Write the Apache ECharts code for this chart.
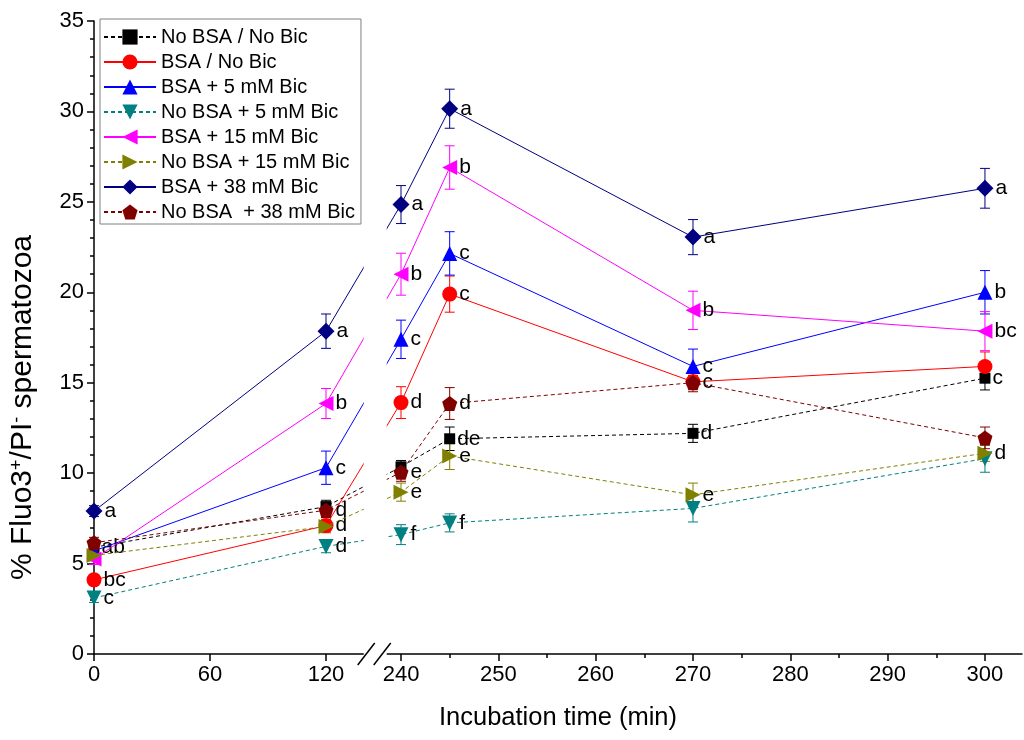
<!DOCTYPE html>
<html><head><meta charset="utf-8">
<script src="https://cdn.jsdelivr.net/npm/echarts@6/dist/echarts.min.js"></script>
<style>html,body{margin:0;padding:0;background:#fff}#c{width:1024px;height:740px}</style>
</head><body><div id="c"></div>
<script>
// ---- data ----
const times = [0, 120, 240, 245, 270, 300];
const leftTicks = [0, 60, 120];
const rightTicks = [240, 250, 260, 270, 280, 290, 300];
const rightMinorTicks = [245, 255, 265, 275, 285, 295];
const yTicks = [0, 5, 10, 15, 20, 25, 30, 35];

const names = ['No BSA / No Bic', 'BSA / No Bic', 'BSA + 5 mM Bic', 'No BSA + 5 mM Bic',
  'BSA + 15 mM Bic', 'No BSA + 15 mM Bic', 'BSA + 38 mM Bic', 'No BSA  + 38 mM Bic'];

const noBsaNoBic = [5.9, 8.15, 10.35, 11.9, 12.2, 15.25];
const noBsaNoBicErr = [0.3, 0.35, 0.35, 0.65, 0.5, 0.65];
const noBsaNoBicLbl = ['ab', '', '', 'de', 'd', 'c'];

const bsaNoBic = [4.1, 7.1, 13.9, 19.9, 15.05, 15.9];
const bsaNoBicErr = [0.3, 0.35, 0.88, 1.0, 0.35, 0.8];
const bsaNoBicLbl = ['bc', 'd', 'd', 'c', 'c', ''];

const bsa5 = [5.7, 10.3, 17.4, 22.15, 15.9, 20.0];
const bsa5Err = [0.3, 0.92, 1.06, 1.2, 0.96, 1.2];
const bsa5Lbl = ['', 'c', 'c', 'c', 'c', 'b'];

const noBsa5 = [3.1, 5.95, 6.6, 7.25, 8.05, 10.8];
const noBsa5Err = [0.25, 0.35, 0.55, 0.5, 0.75, 0.75];
const noBsa5Lbl = ['c', 'd', 'f', 'f', '', ''];

const bsa15 = [5.25, 13.85, 21.0, 26.9, 19.0, 17.85];
const bsa15Err = [0.3, 0.83, 1.16, 1.2, 1.06, 1.08];
const bsa15Lbl = ['', 'b', 'b', 'b', 'b', 'bc'];

const noBsa15 = [5.45, 7.05, 8.95, 10.95, 8.8, 11.1];
const noBsa15Err = [0.3, 0.35, 0.5, 0.75, 0.65, 0.45];
const noBsa15Lbl = ['', '', 'e', 'e', 'e', 'd'];

const bsa38 = [7.9, 17.85, 24.85, 30.15, 23.05, 25.75];
const bsa38Err = [0.3, 0.95, 1.05, 1.08, 0.97, 1.1];
const bsa38Lbl = ['a', 'a', 'a', 'a', 'a', 'a'];

const noBsa38 = [6.15, 7.95, 10.05, 13.85, 15.0, 11.95];
const noBsa38Err = [0.3, 0.4, 0.5, 0.88, 0.5, 0.6];
const noBsa38Lbl = ['', 'd', 'e', 'd', '', ''];

// ---- broken axis scale: left segment 0-120 as is, right segment 240-300 stretched ----
const U240 = 158.8, K = 5.034, UMAX = 480, BREAK_U = 145.2;
const toU = t => (t <= 150 ? t : U240 + (t - 240) * K);
const fromU = u => (u <= 150 ? Math.round(u) : Math.round(240 + (u - U240) / K));

const FONT = 'Liberation Sans, Arial, Helvetica, sans-serif';
const pent = 'path://M0,-10 L9.51,-3.09 L5.88,8.09 L-5.88,8.09 L-9.51,-3.09 Z';

const defs = [
  {vals: noBsaNoBic, err: noBsaNoBicErr, lbl: noBsaNoBicLbl, color: '#000000', dash: true, symbol: 'rect', size: 11, rot: 0},
  {vals: bsaNoBic, err: bsaNoBicErr, lbl: bsaNoBicLbl, color: '#ff0000', dash: false, symbol: 'circle', size: 15, rot: 0},
  {vals: bsa5, err: bsa5Err, lbl: bsa5Lbl, color: '#0000ff', dash: false, symbol: 'triangle', size: 15, rot: 0},
  {vals: noBsa5, err: noBsa5Err, lbl: noBsa5Lbl, color: '#008080', dash: true, symbol: 'triangle', size: 15, rot: 180},
  {vals: bsa15, err: bsa15Err, lbl: bsa15Lbl, color: '#ff00ff', dash: false, symbol: 'triangle', size: 15, rot: 90},
  {vals: noBsa15, err: noBsa15Err, lbl: noBsa15Lbl, color: '#808000', dash: true, symbol: 'triangle', size: 15, rot: -90},
  {vals: bsa38, err: bsa38Err, lbl: bsa38Lbl, color: '#000080', dash: false, symbol: 'diamond', size: 17, rot: 0},
  {vals: noBsa38, err: noBsa38Err, lbl: noBsa38Lbl, color: '#800000', dash: true, symbol: pent, size: 15, rot: 0}
];

function errRender(params, api) {
  const x = api.value(0), y = api.value(1), e = api.value(2);
  const top = api.coord([x, y + e]), bot = api.coord([x, y - e]);
  const cap = 5;
  const style = {stroke: api.visual('color'), lineWidth: 1, fill: null};
  return {type: 'group', children: [
    {type: 'line', shape: {x1: top[0], y1: top[1], x2: bot[0], y2: bot[1]}, style: style},
    {type: 'line', shape: {x1: top[0] - cap, y1: top[1], x2: top[0] + cap, y2: top[1]}, style: style},
    {type: 'line', shape: {x1: bot[0] - cap, y1: bot[1], x2: bot[0] + cap, y2: bot[1]}, style: style}
  ]};
}

const series = [];
defs.forEach((d, i) => {
  series.push({
    type: 'custom', name: names[i] + ' err', xAxisIndex: 0, yAxisIndex: 0,
    renderItem: errRender, itemStyle: {color: d.color}, z: 1, silent: true,
    data: times.map((t, k) => [toU(t), d.vals[k], d.err[k]])
  });
});
defs.forEach((d, i) => {
  series.push({
    type: 'line', name: names[i], xAxisIndex: 0, yAxisIndex: 0,
    symbol: d.symbol, symbolSize: d.size, symbolRotate: d.rot, showAllSymbol: true,
    itemStyle: {color: d.color, opacity: 1},
    lineStyle: {color: d.color, width: 1, type: d.dash ? [4, 3] : 'solid'},
    z: 3 + i, animation: false,
    label: {
      show: true, position: 'right', distance: 2, color: '#000', fontSize: 21, fontFamily: FONT,
      formatter: p => d.lbl[p.dataIndex]
    },
    data: times.map((t, k) => [toU(t), d.vals[k]])
  });
});

const chart = echarts.init(document.getElementById('c'), null, {renderer: 'canvas'});
const axisLineStyle = {color: '#000', width: 1.5};
chart.setOption({
  animation: false,
  backgroundColor: '#fff',
  grid: {left: 94, right: 2, top: 21, bottom: 86, containLabel: false},
  legend: {
    data: names, orient: 'vertical', left: 100, top: 19,
    padding: [8, 6, 2, 3], itemGap: 5, itemWidth: 52, itemHeight: 19,
    borderColor: '#808080', borderWidth: 1, backgroundColor: '#fff',
    textStyle: {fontSize: 20, fontFamily: FONT, color: '#000'}
  },
  xAxis: [{
    type: 'value', min: 0, max: UMAX, position: 'bottom',
    name: 'Incubation time (min)', nameLocation: 'middle', nameGap: 51,
    nameTextStyle: {fontSize: 25.5, fontFamily: FONT, color: '#000'},
    axisLine: {show: true, lineStyle: axisLineStyle},
    axisTick: {show: true, inside: false, length: 7, lineStyle: {color: '#000', width: 1.5},
      customValues: leftTicks.concat(rightTicks).map(toU)},
    axisLabel: {show: true, margin: 10, fontSize: 22, fontFamily: FONT, color: '#000',
      customValues: leftTicks.concat(rightTicks).map(toU), formatter: v => String(fromU(v))},
    splitLine: {show: false}
  }, {
    type: 'value', min: 0, max: UMAX, position: 'bottom', gridIndex: 0,
    axisLine: {show: false},
    axisTick: {show: true, inside: false, length: 4, lineStyle: {color: '#000', width: 1.5},
      customValues: rightMinorTicks.map(toU)},
    axisLabel: {show: false}, splitLine: {show: false}
  }],
  yAxis: [{
    type: 'value', min: 0, max: 35, interval: 5,
    name: '{t|% Fluo3}{s|+}{t|/PI}{s|-}{t| spermatozoa}',
    nameLocation: 'middle', nameGap: 56, nameRotate: 90,
    nameTextStyle: {fontSize: 30, fontFamily: FONT, color: '#000', padding: [0, 140, 0, 0],
      rich: {t: {fontSize: 30, fontFamily: FONT, color: '#000'},
             s: {fontSize: 18, fontFamily: FONT, color: '#000', verticalAlign: 'top'}}},
    axisLine: {show: true, lineStyle: axisLineStyle},
    axisTick: {show: true, inside: false, length: 7, lineStyle: {color: '#000', width: 1.5}},
    minorTick: {show: true, splitNumber: 5, length: 4, lineStyle: {color: '#000', width: 1.5}},
    axisLabel: {margin: 10, fontSize: 22, fontFamily: FONT, color: '#000',
      customValues: yTicks},
    splitLine: {show: false}
  }],
  series: series
});

// axis break: white gap + two slashes
const bx = chart.convertToPixel({xAxisIndex: 0}, BREAK_U);
const gridTop = chart.convertToPixel({yAxisIndex: 0}, 35);
const axisY = chart.convertToPixel({yAxisIndex: 0}, 0);
chart.setOption({
  graphic: [
    {type: 'rect', z: 100, silent: true,
      shape: {x: bx - 11, y: gridTop, width: 23, height: axisY - gridTop + 4},
      style: {fill: '#fff'}},
    {type: 'line', z: 101, silent: true,
      shape: {x1: bx - 17, y1: axisY + 11, x2: bx - 0, y2: axisY - 11},
      style: {stroke: '#000', lineWidth: 1.5}},
    {type: 'line', z: 101, silent: true,
      shape: {x1: bx - 1, y1: axisY + 11, x2: bx + 16, y2: axisY - 11},
      style: {stroke: '#000', lineWidth: 1.5}}
  ]
});
</script>
</body></html>
